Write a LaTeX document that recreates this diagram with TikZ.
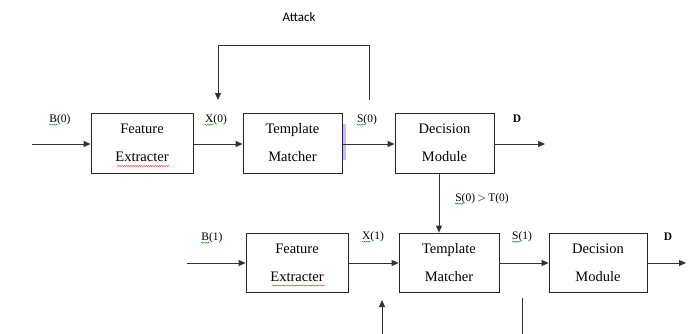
\documentclass[tikz,border=0pt]{standalone}
\usepackage{fontspec}
\setmainfont{Liberation Serif}
\newfontfamily\attackfont{Carlito}
\usetikzlibrary{arrows.meta,decorations.pathmorphing}
\begin{document}
\begin{tikzpicture}[x=1pt,y=-1pt,
  blockbox/.style={draw=black!85,line width=0.8pt,rectangle,inner sep=0pt,
    minimum height=60pt,align=center,font=\fontsize{14.5}{28}\selectfont},
  arr/.style={draw=black!80,line width=0.8pt,-{Triangle[length=7pt,width=6pt]}},
  plain/.style={draw=black!80,line width=0.8pt},
  lbl/.style={inner sep=0pt,font=\fontsize{11.5}{13}\selectfont},
  dlbl/.style={inner sep=0pt,font=\bfseries\fontsize{11.5}{13}\selectfont},
  redwave/.style={draw=red!80,line width=0.4pt,decorate,decoration={snake,segment length=2.2pt,amplitude=0.6pt}},
  greenwave/.style={draw=green!60!black,line width=0.4pt,decorate,decoration={snake,segment length=2.2pt,amplitude=0.6pt}}]
\useasboundingbox (0,0) rectangle (692,333);
\fill[white] (0,0) rectangle (692,333);

% row 1 blocks
\node[blockbox,minimum width=102pt] (fe1) at (142,143) {Feature\\Extracter};
\node[blockbox,minimum width=99pt] (tm1) at (292.5,143) {Template\\Matcher};
\node[blockbox,minimum width=99pt] (dm1) at (444.5,143) {Decision\\Module};
% row 2 blocks
\node[blockbox,minimum width=102pt,minimum height=59pt] (fe2) at (297,262.5) {Feature\\Extracter};
\node[blockbox,minimum width=100pt,minimum height=59pt] (tm2) at (449,262.5) {Template\\Matcher};
\node[blockbox,minimum width=98pt,minimum height=59pt] (dm2) at (598,262.5) {Decision\\Module};

% selection highlight
\fill[blue!25] (343,124) rectangle (346,160);

% free ends
\coordinate (in1) at (32,144);
\coordinate (out1) at (545,144);
\coordinate (in2) at (187,263);
\coordinate (out2) at (686,263);
\coordinate (atkS) at (369,100);
\coordinate (atkE) at (218,100);
\coordinate (upS) at (382,334);
\coordinate (upE) at (382,300);
\coordinate (lnS) at (522,298);
\coordinate (lnE) at (522,334);

% row 1 connectors
\draw[arr] (in1) -- (in1 -| fe1.west);
\draw[arr] (fe1.east |- in1) -- (tm1.west |- in1);
\draw[arr] (tm1.east |- in1) -- (dm1.west |- in1);
\draw[arr] (dm1.east |- in1) -- (out1);
% attack loop
\draw[arr] (atkS) -- (369,45) -- (218,45) -- (atkE);
% vertical decision arrow
\draw[arr] ([xshift=-5.5pt]dm1.south) -- ([xshift=-5.5pt]dm1.south |- tm2.north);
% row 2 connectors
\draw[arr] (in2) -- (in2 -| fe2.west);
\draw[arr] (fe2.east |- in2) -- (tm2.west |- in2);
\draw[arr] (tm2.east |- in2) -- (dm2.west |- in2);
\draw[arr] (dm2.east |- in2) -- (out2);
% bottom lines
\draw[arr] (upS) -- (upE);
\draw[plain] (lnS) -- (lnE);

% labels
\node[inner sep=0pt,font=\attackfont\fontsize{13}{15}\selectfont] (attack) at (299,17) {Attack};
\node[lbl] (b0) at (60,120) {B(0)};
\node[lbl] (x0) at (216,120) {X(0)};
\node[lbl] (s0) at (367,120) {S(0)};
\node[dlbl] (d0) at (517,119) {D};
\node[lbl] (b1) at (212,238) {B(1)};
\node[lbl] (x1) at (373,237) {X(1)};
\node[lbl] (s1) at (522,237) {S(1)};
\node[dlbl] (d1) at (668,237) {D};
\node[lbl] (thr) at (482,199) {S(0)$\,{>}\,$T(0)};

% spell-check underlines
\foreach \n in {b0,x0,s0,b1,x1,s1,thr}{
  \draw[greenwave] ([yshift=-2pt]\n.base west) -- ([xshift=9pt,yshift=-2pt]\n.base west);
}
\foreach \n in {fe1,fe2}{
  \draw[redwave] ([xshift=-25pt,yshift=-23pt]\n.center) -- ([xshift=28pt,yshift=-23pt]\n.center);
}
\end{tikzpicture}
\end{document}
